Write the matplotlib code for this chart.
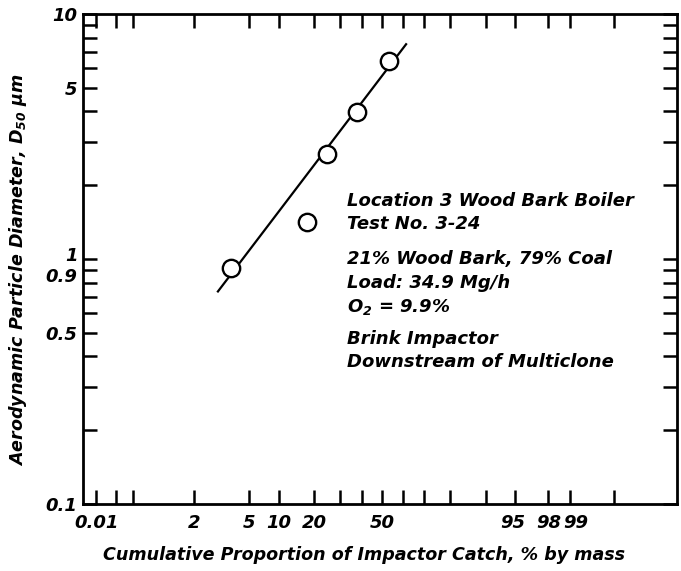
import math
import numpy as np
import matplotlib
matplotlib.use("Agg")
import matplotlib.pyplot as plt
from matplotlib.ticker import FixedLocator, FixedFormatter, NullLocator
from matplotlib.transforms import ScaledTranslation
from matplotlib.font_manager import FontProperties

plt.rcParams['font.family'] = ['DejaVu Sans']
plt.rcParams['mathtext.default'] = 'regular'

# ---------------- data ----------------
cum_pct = [3.1, 17.5, 24.9, 38.0, 53.5]          # cumulative % by mass
d50_um = [0.915, 1.42, 2.68, 3.99, 6.45]         # D50, micrometres
fit_pct = [2.06, 62.0]                           # fitted line end points
fit_d50 = [0.731, 7.59]

x_tick_values = [0.02, 0.05, 0.1, 1, 5, 10, 20, 30, 40, 50, 60, 70, 80, 90,
                 95, 98, 99, 99.8]
x_tick_text = ["0.01", "", "", "2", "5", "10", "20", "", "", "50", "", "", "",
               "", "95", "98", "99", ""]
y_tick_values = [0.1, 0.2, 0.3, 0.4, 0.5, 0.6, 0.7, 0.8, 0.9, 1, 2, 3, 4, 5,
                 6, 7, 8, 9, 10]
y_tick_text = ["0.1", "", "", "", "0.5", "", "", "", "0.9", "1", "", "", "",
               "5", "", "", "", "", "10"]

notes = ["Location 3 Wood Bark Boiler", "Test No. 3-24",
         "21% Wood Bark, 79% Coal", "Load: 34.9 Mg/h", "$O_2$ = 9.9%",
         "Brink Impactor", "Downstream of Multiclone"]


# ---------------- probability (probit) scale ----------------
def _ppf(p):
    p = np.clip(np.asarray(p, dtype=float), 1e-12, 1 - 1e-12)
    a = [-3.969683028665376e+01, 2.209460984245205e+02, -2.759285104469687e+02,
         1.383577518672690e+02, -3.066479806614716e+01, 2.506628277459239e+00]
    b = [-5.447609879822406e+01, 1.615858368580409e+02, -1.556989798598866e+02,
         6.680131188771972e+01, -1.328068155288572e+01]
    c = [-7.784894002430293e-03, -3.223964580411365e-01, -2.400758277161838e+00,
         -2.549671010129910e+00, 4.374664141464968e+00, 2.938163982698783e+00]
    d = [7.784695709041462e-03, 3.224671290700398e-01, 2.445134137142996e+00,
         3.754408161907416e+00]
    plow = 0.02425
    out = np.empty_like(p)
    lo = p < plow
    hi = p > 1 - plow
    mid = ~(lo | hi)
    q = np.sqrt(-2 * np.log(p[lo]))
    out[lo] = ((((((c[0]*q+c[1])*q+c[2])*q+c[3])*q+c[4])*q+c[5]) /
               ((((d[0]*q+d[1])*q+d[2])*q+d[3])*q+1))
    q = p[mid] - 0.5
    r = q * q
    out[mid] = ((((((a[0]*r+a[1])*r+a[2])*r+a[3])*r+a[4])*r+a[5])*q /
                (((((b[0]*r+b[1])*r+b[2])*r+b[3])*r+b[4])*r+1))
    q = np.sqrt(-2 * np.log(1 - p[hi]))
    out[hi] = -((((((c[0]*q+c[1])*q+c[2])*q+c[3])*q+c[4])*q+c[5]) /
                ((((d[0]*q+d[1])*q+d[2])*q+d[3])*q+1))
    return out


_erf = np.vectorize(math.erf)


def pct_to_z(pct):
    return _ppf(np.asarray(pct, dtype=float) / 100.0)


def z_to_pct(z):
    z = np.asarray(z, dtype=float)
    return 50.0 * (1.0 + _erf(z / math.sqrt(2.0)))


# ---------------- figure ----------------
fig = plt.figure(figsize=(6.81, 5.71), dpi=100)
W, H = 681, 571
L, R, T, B = 83, 677, 14, 504
ax = fig.add_axes([L / W, 1 - B / H, (R - L) / W, (B - T) / H])

ax.set_xscale('function', functions=(pct_to_z, z_to_pct))
ax.set_yscale('log')
ax.set_xlim(0.0106, 99.987)
ax.set_ylim(0.1, 10)

ax.plot(fit_pct, fit_d50, color='black', lw=1.6, solid_capstyle='butt',
        zorder=2)
ax.plot(cum_pct, d50_um, linestyle='none', marker='o', ms=12.5,
        mfc='white', mec='black', mew=1.7, zorder=3)

tick_fp = FontProperties(family='DejaVu Sans', weight='bold',
                         style='italic', size=13)

ax.xaxis.set_major_locator(FixedLocator(x_tick_values))
ax.xaxis.set_major_formatter(FixedFormatter(x_tick_text))
ax.xaxis.set_minor_locator(NullLocator())
ax.yaxis.set_major_locator(FixedLocator(y_tick_values))
ax.yaxis.set_major_formatter(FixedFormatter(y_tick_text))
ax.yaxis.set_minor_locator(NullLocator())

ax.tick_params(axis='both', which='major', direction='in', length=10,
               width=1.8, top=True, right=True, color='black')
ax.tick_params(axis='x', pad=7)
ax.tick_params(axis='y', pad=4)
for lab in ax.get_xticklabels() + ax.get_yticklabels():
    lab.set_fontproperties(tick_fp)


def _nudge(label, dx_px, dy_px):
    label.set_transform(label.get_transform() +
                        ScaledTranslation(dx_px / 100, dy_px / 100,
                                          fig.dpi_scale_trans))


# nudge the crowded labels apart like the original
for tick, val in zip(ax.yaxis.get_major_ticks(), y_tick_values):
    if val == 1:
        _nudge(tick.label1, 0, 5)
    elif val == 0.9:
        _nudge(tick.label1, 0, -5)
for tick, val in zip(ax.xaxis.get_major_ticks(), x_tick_values):
    if val == 99:
        _nudge(tick.label1, 6, 0)
    elif val == 98:
        _nudge(tick.label1, 1, 0)
    elif val == 95:
        _nudge(tick.label1, -2, 0)

for sp in ax.spines.values():
    sp.set_linewidth(2.0)

label_font = dict(family='DejaVu Sans', weight='bold', style='italic',
                  size=12.6)
fig.text(364 / W, 1 - 555 / H,
         "Cumulative Proportion of Impactor Catch, % by mass",
         ha='center', va='center', **label_font)
fig.text(18 / W, 1 - 270 / H,
         "Aerodynamic Particle Diameter, $D_{50}$ μm",
         ha='center', va='center', rotation=90, **label_font)

note_font = dict(family='DejaVu Sans', weight='bold', style='italic', size=13)
note_baselines = [206, 229, 264, 288, 312, 344, 367]
for txt, yb in zip(notes, note_baselines):
    fig.text(347 / W, 1 - yb / H, txt, ha='left', va='baseline', **note_font)

fig.savefig("out.png", dpi=100)
